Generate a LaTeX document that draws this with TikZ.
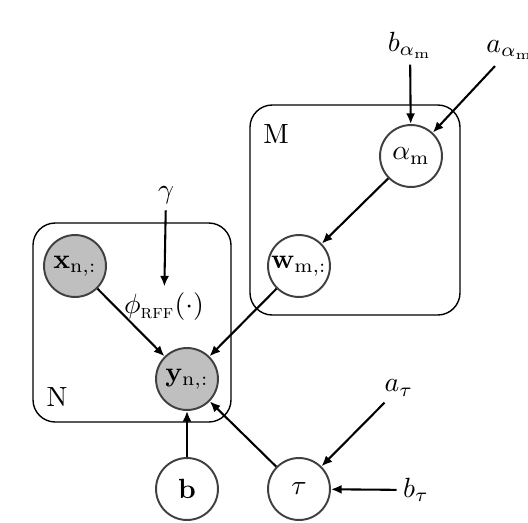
\documentclass[tikz,border=0pt]{standalone}
\usepackage{amsmath}
\usetikzlibrary{arrows.meta}

\begin{document}
\begin{tikzpicture}[x=0.36pt,y=-0.36pt,line width=0.75pt,>={Latex[length=1.35mm,width=1.15mm]},
  latent/.style={circle,draw=black!75,line width=0.7pt,minimum size=22.3pt,inner sep=0pt},
  obs/.style={latent,fill=black!25},
  hyper/.style={inner sep=2pt},
  plate/.style={draw,rounded corners=8pt,line width=0.5pt}]
  \useasboundingbox (0,0) rectangle (528,522);
  % placas
  \draw[plate] (33,223) rectangle (231,422);
  \draw[plate] (250,105) rectangle (460,315);
  \node (labN) at (57,397) {N};
  \node (labM) at (276,134) {M};
  % variables
  \node[obs] (x) at (75,266) {$\mathbf{x}_{\mathrm{n},:}$};
  \node[obs] (y) at (187,379) {$\mathbf{y}_{\mathrm{n},:}$};
  \node[latent] (w) at (299,266) {$\mathbf{w}_{\mathrm{m},:}$};
  \node[latent] (alpha) at (411,156) {$\alpha_{\mathrm{m}}$};
  \node[latent] (b) at (187,489) {$\mathbf{b}$};
  \node[latent] (tau) at (299,489) {$\tau$};
  % hiperparametros
  \node[hyper] (gamma) at (166,195) {$\gamma$};
  \node[hyper] (phi) at (164,307) {$\phi_{\text{\textsc{rff}}}(\cdot)$};
  \node[hyper] (balpha) at (410,45) {$b_{\alpha_{\mathrm{m}}}$};
  \node[hyper] (aalpha) at (510,50) {$a_{\alpha_{\mathrm{m}}}$};
  \node[hyper] (atau) at (399,388) {$a_{\tau}$};
  \node[hyper] (btau) at (416,490) {$b_{\tau}$};
  % aristas
  \draw[->] (gamma) -- (phi);
  \draw[->] (x) -- (y);
  \draw[->] (w) -- (y);
  \draw[->] (b) -- (y);
  \draw[->] (tau) -- (y);
  \draw[->] (alpha) -- (w);
  \draw[->] (balpha) -- (alpha);
  \draw[->] (aalpha) -- (alpha);
  \draw[->] (atau) -- (tau);
  \draw[->] (btau) -- (tau);
\end{tikzpicture}
\end{document}
